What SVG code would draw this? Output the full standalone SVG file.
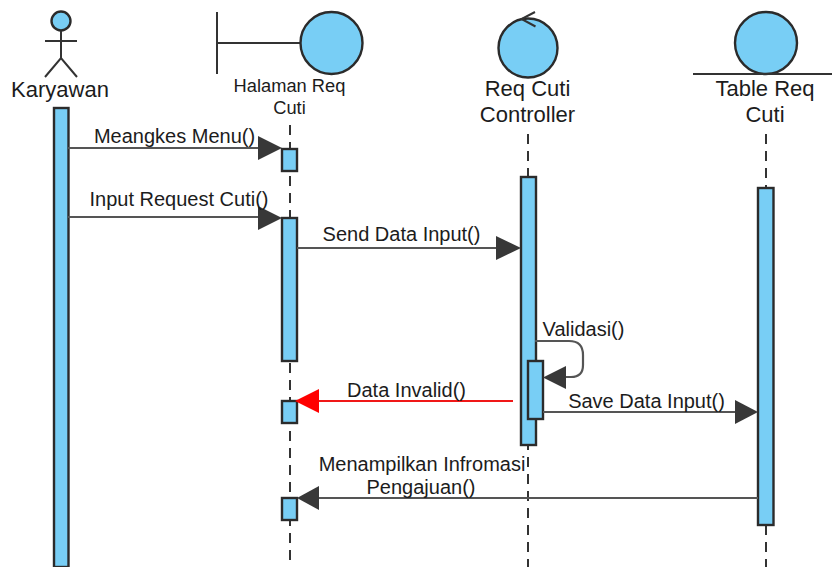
<svg xmlns="http://www.w3.org/2000/svg" width="832" height="567" viewBox="0 0 832 567">
<style>
text{font-family:"Liberation Sans",Arial,sans-serif;font-size:20px;fill:#1c1c1c;text-anchor:middle}
.s{font-size:18.300px}
.t{font-size:22px}
.b{fill:#78cef5;stroke:#2b2b2b;stroke-width:2.4}
.l{fill:none;stroke:#333;stroke-width:2}
.d{fill:none;stroke:#333;stroke-width:2;stroke-dasharray:10 7}
.m{fill:none;stroke:#555;stroke-width:2.2}
.h{fill:#383838}
</style>
<rect width="832" height="567" fill="#fff"/>
<g id="lifelines">
<line class="d" x1="290" y1="125" x2="290" y2="567"/>
<line class="d" x1="528" y1="134" x2="528" y2="567"/>
<line class="d" x1="766" y1="134" x2="766" y2="190"/>
<line class="d" x1="766" y1="525" x2="766" y2="567"/>
</g>
<g id="karyawan">
<circle class="b" cx="61" cy="21" r="9.500"/>
<path class="l" d="M61 31V58M45 41H77M45 77L61 58L77 77"/>
<text class="t" x="60" y="97">Karyawan</text>
<rect class="b" x="54" y="108" width="14.500" height="459"/>
</g>
<g id="halaman">
<path class="l" d="M217 12V74M217 43H301"/>
<circle class="b" cx="331.500" cy="43" r="31"/>
<text class="s" x="289.500" y="92">Halaman Req</text>
<text class="s" x="289.500" y="114">Cuti</text>
<rect class="b" x="282" y="149" width="15" height="22"/>
<rect class="b" x="282" y="218" width="15" height="143"/>
<rect class="b" x="282" y="401" width="15" height="22"/>
<rect class="b" x="282" y="498" width="15" height="22"/>
</g>
<g id="controller">
<circle class="b" cx="528" cy="48" r="29.500"/>
<path class="l" d="M535 12L521.500 19L535.500 26.500"/>
<text class="t" x="527.500" y="96">Req Cuti</text>
<text class="t" x="527.500" y="122">Controller</text>
<rect class="b" x="521" y="177" width="15" height="268"/>
<rect class="b" x="528" y="361" width="15" height="58"/>
</g>
<g id="table">
<circle class="b" cx="766" cy="43" r="31"/>
<line x1="693" y1="74" x2="832" y2="74" stroke="#333" stroke-width="2"/>
<text class="t" x="765" y="96">Table Req</text>
<text class="t" x="765" y="122">Cuti</text>
<rect class="b" x="758" y="188" width="15.500" height="337"/>
</g>
<g id="connectors">
<line class="m" x1="68" y1="148" x2="260" y2="148"/>
<polygon class="h" points="258,136 282,148 258,160"/>
<line class="m" x1="68" y1="217" x2="260" y2="217"/>
<polygon class="h" points="258,206 282,218 258,230"/>
<line class="m" x1="297" y1="248" x2="498" y2="248"/>
<polygon class="h" points="496,236 521,248 496,260"/>
<path class="m" d="M535 341H569Q583 341 583 355V365Q583 377 571 377H565"/>
<polygon class="h" points="566,366 543,377.500 566,389"/>
<line x1="513" y1="401" x2="318" y2="401" stroke="#f01818" stroke-width="1.800"/>
<polygon points="319,389 295,401 319,413" fill="#f00"/>
<line class="m" x1="543" y1="412" x2="738" y2="412"/>
<polygon class="h" points="735,400 758,412 735,424"/>
<line class="m" x1="758" y1="498" x2="318" y2="498"/>
<polygon class="h" points="319,486 297,498 319,510"/>
</g>
<g id="labels">
<text x="174.500" y="143">Meangkes Menu()</text>
<text x="179" y="206">Input Request Cuti()</text>
<text x="401.500" y="241">Send Data Input()</text>
<text x="583.500" y="336">Validasi()</text>
<text x="406.500" y="397">Data Invalid()</text>
<text x="646.500" y="408">Save Data Input()</text>
<text x="422" y="471">Menampilkan Infromasi</text>
<text x="421" y="494">Pengajuan()</text>
</g>
</svg>
